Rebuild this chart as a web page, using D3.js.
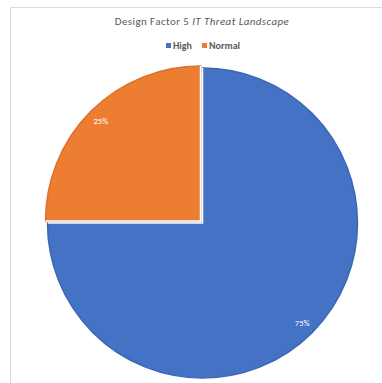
<!DOCTYPE html>
<html>
<head>
<meta charset="utf-8">
<script src="https://cdn.jsdelivr.net/npm/d3@7"></script>
<style>
  body { margin: 0; background: #fff; overflow: hidden; }
  svg { display: block; font-family: Carlito, "Liberation Sans Narrow", "Open Sans", sans-serif; }
</style>
</head>
<body>
<script>
var w = 382;
var h = 383;

var categories = ["High", "Normal"];
var values = [75, 25];
var colors = ["#4472c4", "#ed7d31"];
var edgeColors = ["#3d67b3", "#d9722c"];

var cx = 202.5, cy = 223, radius = 155;

var svg = d3.select("body")
    .append("svg")
    .attr("width", w)
    .attr("height", h);

// chart frame (only left and top edges are in view)
svg.append("path")
    .attr("d", "M10.5," + h + "V7.5H" + w)
    .attr("fill", "none")
    .attr("stroke", "#d9d9d9")
    .attr("stroke-width", 1);

// title
var title = svg.append("text")
    .attr("x", 202)
    .attr("y", 25)
    .attr("text-anchor", "middle")
    .attr("font-size", 11)
    .attr("fill", "#595959")
    .attr("letter-spacing", 0.4);
title.append("tspan").text("Design Factor 5 ");
title.append("tspan").attr("font-style", "italic").text("IT Threat Landscape");

// legend
var legendX = [166, 202];
var legend = svg.selectAll(".legend")
    .data(categories)
    .enter()
    .append("g")
    .attr("class", "legend")
    .attr("transform", function (d, i) { return "translate(" + legendX[i] + ",43)"; });

legend.append("rect")
    .attr("width", 5)
    .attr("height", 5)
    .attr("fill", function (d, i) { return colors[i]; });

legend.append("text")
    .attr("x", 7)
    .attr("y", 5.5)
    .attr("font-size", 10)
    .attr("font-weight", "bold")
    .attr("fill", "#595959")
    .text(function (d) { return d; });

// pie
var pie = d3.pie().sort(null);
var arcs = pie(values);
var total = d3.sum(values);

var arc = d3.arc().innerRadius(0).outerRadius(radius);
var labelArc = d3.arc().innerRadius(141).outerRadius(141);

// orange slice is pulled out slightly
var offsets = [[0, 0], [-2, -2]];

var slices = svg.selectAll(".slice")
    .data(arcs)
    .enter()
    .append("g")
    .attr("class", "slice")
    .attr("transform", function (d, i) {
        return "translate(" + (cx + offsets[i][0]) + "," + (cy + offsets[i][1]) + ")";
    });

slices.append("path")
    .attr("d", arc)
    .attr("fill", function (d, i) { return colors[i]; })
    .attr("stroke", function (d, i) { return edgeColors[i]; })
    .attr("stroke-width", 1.5);

// white separators over the slice outline
slices.append("path")
    .attr("d", arc)
    .attr("fill", "none")
    .attr("stroke", "#fff")
    .attr("stroke-width", 1.5)
    .attr("stroke-dasharray", function (d) {
        var arcLen = (d.endAngle - d.startAngle) * radius;
        return "0," + arcLen + "," + (2 * radius);
    });

slices.append("text")
    .attr("transform", function (d) { return "translate(" + labelArc.centroid(d) + ")"; })
    .attr("text-anchor", "middle")
    .attr("dy", "0.35em")
    .attr("font-size", 8.5)
    .attr("fill", "#fff")
    .text(function (d) { return Math.round(d.value / total * 100) + "%"; });
</script>
</body>
</html>
